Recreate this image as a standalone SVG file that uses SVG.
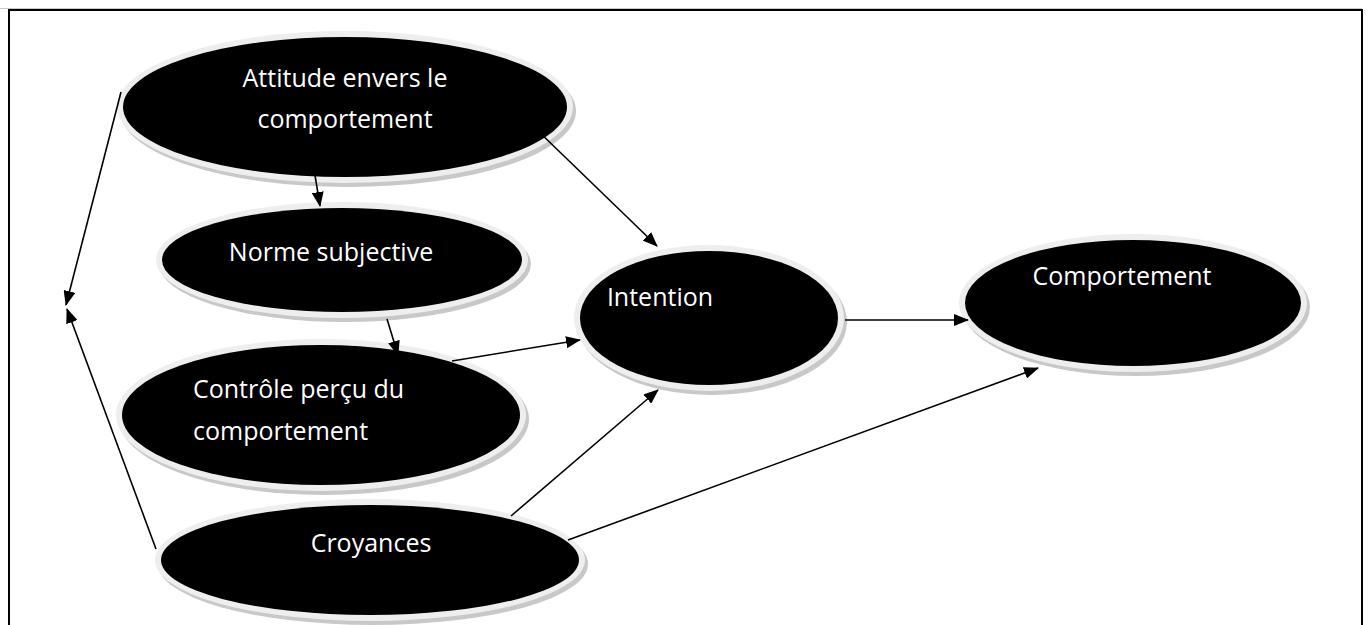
<svg xmlns="http://www.w3.org/2000/svg" width="1368" height="625" viewBox="0 0 1368 625">
  <defs>
    <marker id="arrow" markerWidth="15" markerHeight="12" refX="14" refY="6" orient="auto" markerUnits="userSpaceOnUse">
      <path d="M0,0 L15,6 L0,12 Z" fill="#000"/>
    </marker>
  </defs>
  <style>
    .shadow { fill: #c8c8c8; }
    .rim { fill: #eeeeee; }
    .core { fill: #000; }
    .label { font-family: "Open Sans", "Noto Sans", sans-serif; font-size: 25px; fill: #fff; }
    .link { stroke: #000; stroke-width: 1.6; fill: none; marker-end: url(#arrow); }
  </style>

  <rect width="1368" height="625" fill="#fff"/>
  <!-- page frame -->
  <line x1="0" y1="8.5" x2="1362" y2="8.5" stroke="#c8c8c8" stroke-width="1"/>
  <path d="M9,640 V10 H1362 V640" fill="none" stroke="#000" stroke-width="2"/>

  <!-- Attitude envers le comportement -->
  <g id="attitude">
    <ellipse class="shadow" cx="348" cy="111" rx="228" ry="76"/>
    <ellipse class="rim" cx="345" cy="107" rx="228" ry="76"/>
    <ellipse class="core" cx="345" cy="107" rx="222" ry="70"/>
    <text class="label" x="345" y="87" text-anchor="middle">Attitude envers le</text>
    <text class="label" x="345" y="128" text-anchor="middle">comportement</text>
  </g>

  <!-- Norme subjective -->
  <g id="norme">
    <ellipse class="shadow" cx="345" cy="264" rx="186" ry="58"/>
    <ellipse class="rim" cx="342" cy="260" rx="186" ry="58"/>
    <ellipse class="core" cx="342" cy="260" rx="180" ry="52"/>
    <text class="label" x="331" y="261" text-anchor="middle">Norme subjective</text>
  </g>

  <!-- Contrôle perçu du comportement -->
  <g id="controle">
    <ellipse class="shadow" cx="324" cy="419" rx="205" ry="76"/>
    <ellipse class="rim" cx="321" cy="415" rx="205" ry="76"/>
    <ellipse class="core" cx="321" cy="415" rx="199" ry="70"/>
    <text class="label" x="193" y="398">Contrôle perçu du</text>
    <text class="label" x="193" y="440">comportement</text>
  </g>

  <!-- Croyances -->
  <g id="croyances">
    <ellipse class="shadow" cx="373" cy="564" rx="215" ry="61"/>
    <ellipse class="rim" cx="370" cy="560" rx="215" ry="61"/>
    <ellipse class="core" cx="370" cy="560" rx="209" ry="55"/>
    <text class="label" x="371" y="552" text-anchor="middle">Croyances</text>
  </g>

  <!-- Intention -->
  <g id="intention">
    <ellipse class="shadow" cx="712" cy="322" rx="135" ry="73"/>
    <ellipse class="rim" cx="709" cy="318" rx="135" ry="73"/>
    <ellipse class="core" cx="709" cy="318" rx="129" ry="67"/>
    <text class="label" x="660" y="306" text-anchor="middle">Intention</text>
  </g>

  <!-- Comportement -->
  <g id="comportement">
    <ellipse class="shadow" cx="1136" cy="307" rx="174" ry="69"/>
    <ellipse class="rim" cx="1133" cy="303" rx="174" ry="69"/>
    <ellipse class="core" cx="1133" cy="303" rx="168" ry="63"/>
    <text class="label" x="1122" y="285" text-anchor="middle">Comportement</text>
  </g>

  <!-- connectors, drawn over the ellipse rims -->
  <g id="connectors">
    <line class="link" x1="535" y1="128" x2="657" y2="246"/>
    <line class="link" x1="313" y1="163" x2="320" y2="206"/>
    <line class="link" x1="387" y1="319" x2="398" y2="355"/>
    <line class="link" x1="452" y1="361" x2="580" y2="340"/>
    <line class="link" x1="511" y1="516" x2="658" y2="390"/>
    <line class="link" x1="568" y1="540" x2="1038" y2="368"/>
    <line class="link" x1="845" y1="320" x2="968" y2="320"/>
    <line class="link" x1="121" y1="92" x2="66" y2="305"/>
    <line class="link" x1="156" y1="549" x2="67" y2="309"/>
  </g>
</svg>
